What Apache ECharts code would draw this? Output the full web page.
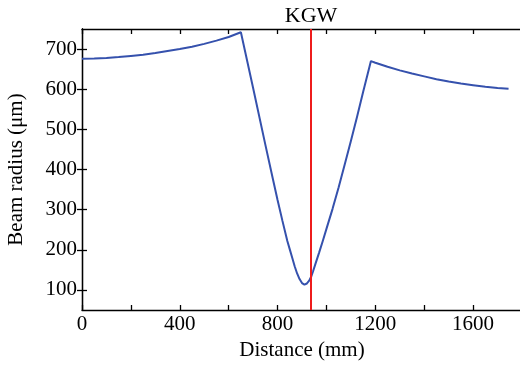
<!DOCTYPE html>
<html>
<head>
<meta charset="utf-8">
<script src="https://cdn.jsdelivr.net/npm/echarts@6/dist/echarts.min.js"></script>
<style>html,body{margin:0;padding:0;background:#fff;}#c{width:520px;height:365px;}</style>
</head>
<body>
<div id="c"></div>
<script>
// Data
const distance = [0,50,100,150,200,250,300,350,400,450,500,550,600,650,700,750,780,800,820,840,850,860,870,880,890,900,910,920,930,937,945,955,970,985,1000,1025,1050,1075,1100,1125,1150,1182,1200,1250,1300,1350,1400,1450,1500,1550,1600,1650,1700,1745];
const radius   = [676,676.5,678,680,683,686,690,695,700,706,713,721,730,742,603,462,379,324,272,222,201,180,159,141,127,117,113,116,124,132,146,165,193,222,252,302,356,413,471,531,593,670,666,656,647,639,632,625,619,614,610,606,603,601];
const kgwPosition = 937;
const kgwLabel = 'KGW';
const xTicks = [0,200,400,600,800,1000,1200,1400,1600,1800];
const xLabels = [0,400,800,1200,1600];
const yTicks = [100,200,300,400,500,600,700];
const xName = 'Distance (mm)';
const yName = 'Beam radius (μm)';

const font = 'Liberation Serif';
const chart = echarts.init(document.getElementById('c'), null, {renderer:'canvas'});
const axisLine = {show:true, lineStyle:{color:'#000', width:1.3}};
const tickStyle = {inside:true, length:5, lineStyle:{color:'#000', width:1.3}};
chart.setOption({
  animation:false,
  backgroundColor:'#fff',
  grid:{left:82, right:-2, top:29, bottom:55, containLabel:false, outerBoundsMode:'none'},
  xAxis:[{
    type:'value', min:0, max:1800, position:'bottom',
    name:xName, nameLocation:'middle', nameGap:28,
    nameTextStyle:{fontFamily:font, fontSize:21, color:'#000'},
    axisLine:axisLine,
    axisTick:Object.assign({customValues:xTicks}, tickStyle),
    axisLabel:{customValues:xLabels, formatter:v=>String(v), fontFamily:font, fontSize:21, color:'#000', margin:4},
    splitLine:{show:false}
  },{
    type:'value', min:0, max:1800, position:'top',
    axisLine:axisLine,
    axisTick:Object.assign({customValues:xTicks}, tickStyle),
    axisLabel:{show:false}, splitLine:{show:false}
  }],
  yAxis:[{
    type:'value', min:50, max:750, position:'left',
    name:yName, nameLocation:'middle', nameGap:55,
    nameTextStyle:{fontFamily:font, fontSize:21, color:'#000'},
    axisLine:axisLine,
    axisTick:Object.assign({customValues:yTicks}, tickStyle),
    axisLabel:{customValues:yTicks, formatter:v=>String(v), fontFamily:font, fontSize:21, color:'#000', margin:5},
    splitLine:{show:false}
  },{
    type:'value', min:50, max:750, position:'right',
    axisLine:axisLine,
    axisTick:Object.assign({customValues:yTicks}, tickStyle),
    axisLabel:{show:false}, splitLine:{show:false}
  }],
  series:[{
    type:'line',
    data:distance.map((d,i)=>[d, radius[i]]),
    showSymbol:false, symbol:'none', smooth:false,
    lineStyle:{color:'#3551ad', width:2},
    markLine:{
      silent:true, symbol:['none','none'],
      lineStyle:{color:'#ee1c1c', width:2, type:'solid'},
      label:{show:true, position:'end', formatter:kgwLabel, fontFamily:font, fontSize:22, color:'#000', distance:2},
      data:[[{coord:[kgwPosition,50]},{coord:[kgwPosition,750]}]]
    }
  }]
});
</script>
</body>
</html>
